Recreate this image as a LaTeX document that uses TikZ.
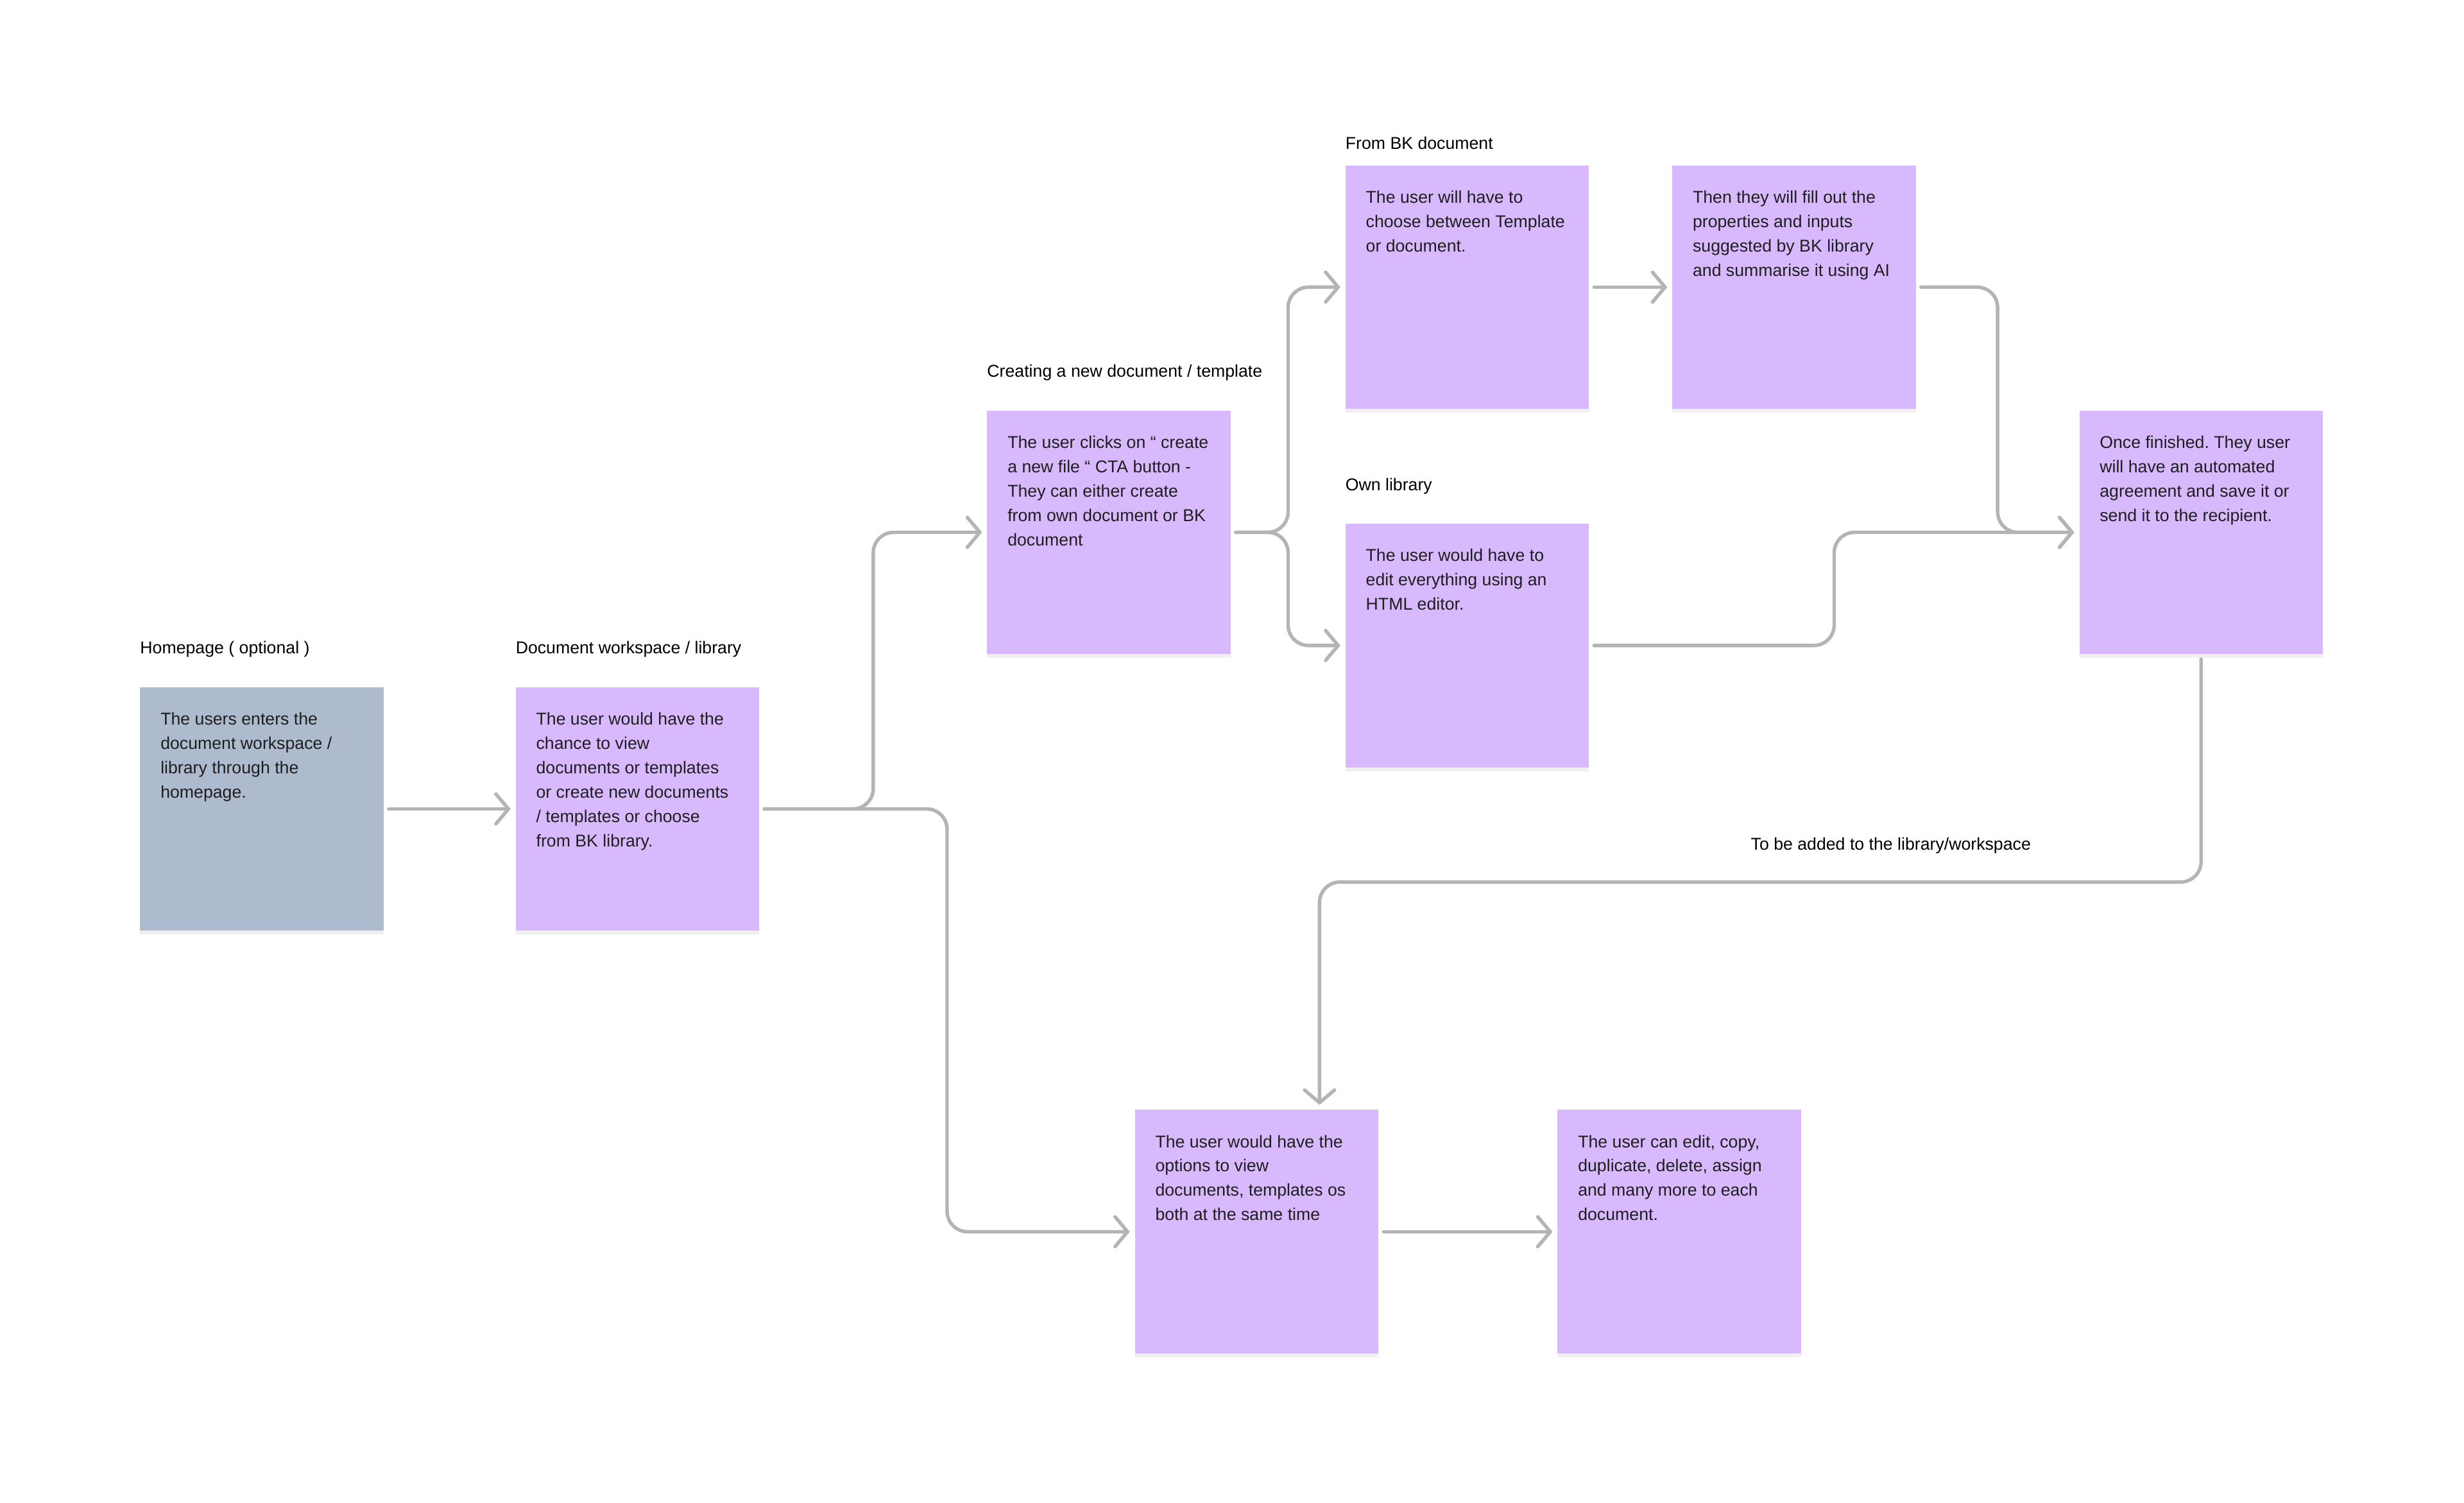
\documentclass[tikz,border=0pt]{standalone}
\usepackage{fontspec}
\setmainfont{Liberation Sans}
\usetikzlibrary{arrows.meta,calc,shadows}

\definecolor{notepurple}{RGB}{217,185,254}
\definecolor{noteblue}{RGB}{174,187,207}
\definecolor{linegray}{RGB}{180,180,180}
\definecolor{inkdark}{RGB}{30,30,30}

\frenchspacing
\begin{document}
\begin{tikzpicture}[x=1pt,y=-1pt]
    \tikzstyle{note}=[rectangle,anchor=north west,minimum width=155pt,minimum height=155pt,inner sep=0pt,fill=notepurple,
        drop shadow={shadow xshift=0pt,shadow yshift=-2.5pt,opacity=0.12}]
    \tikzstyle{start note}=[note, fill=noteblue]
    \tikzstyle{note text}=[anchor=north west,inner sep=0pt,align=left,text=inkdark,font=\fontsize{10.9}{15.5}\selectfont]
    \tikzstyle{title}=[anchor=base west,inner sep=0pt,text=black,font=\fontsize{10.9}{12}\selectfont]
    \tikzstyle{flow}=[draw=linegray,line width=2.2pt,rounded corners=13pt,line cap=round,
        -{Straight Barb[length=8pt,width=19pt,line cap=round]},shorten >=3pt,shorten <=3pt]

    \useasboundingbox (0,0) rectangle (1568,956);

    % Notes
    \node[start note] (home) at (89,437) {};
    \node[note] (work) at (328,437) {};
    \node[note] (create) at (628,261) {};
    \node[note] (frombk) at (856,105) {};
    \node[note] (then) at (1064,105) {};
    \node[note] (own) at (856,333) {};
    \node[note] (once) at (1323,261) {};
    \node[note] (opts) at (722,706) {};
    \node[note] (edit) at (991,706) {};

    \node[note text] at ([xshift=13pt,yshift=-16pt]home.north west) {The users enters the\\document workspace /\\library through the\\homepage.};
    \node[note text] at ([xshift=13pt,yshift=-16pt]work.north west) {The user would have the\\chance to view\\documents or templates\\or create new documents\\/ templates or choose\\from BK library.};
    \node[note text] at ([xshift=13pt,yshift=-16pt]create.north west) {The user clicks on “ create\\a new file “ CTA button -\\They can either create\\from own document or BK\\document};
    \node[note text] at ([xshift=13pt,yshift=-16pt]frombk.north west) {The user will have to\\choose between Template\\or document.};
    \node[note text] at ([xshift=13pt,yshift=-16pt]then.north west) {Then they will fill out the\\properties and inputs\\suggested by BK library\\and summarise it using AI};
    \node[note text] at ([xshift=13pt,yshift=-16pt]own.north west) {The user would have to\\edit everything using an\\HTML editor.};
    \node[note text] at ([xshift=13pt,yshift=-16pt]once.north west) {Once finished. They user\\will have an automated\\agreement and save it or\\send it to the recipient.};
    \node[note text] at ([xshift=13pt,yshift=-16pt]opts.north west) {The user would have the\\options to view\\documents, templates os\\both at the same time};
    \node[note text] at ([xshift=13pt,yshift=-16pt]edit.north west) {The user can edit, copy,\\duplicate, delete, assign\\and many more to each\\document.};

    % Titles
    \node[title] (home-t) at ([yshift=21pt]home.north west) {Homepage ( optional )};
    \node[title] (work-t) at ([yshift=21pt]work.north west) {Document workspace / library};
    \node[title] (create-t) at ([yshift=21pt]create.north west) {Creating a new document / template};
    \node[title] (frombk-t) at ([yshift=10pt]frombk.north west) {From BK document};
    \node[title] (own-t) at ([yshift=21pt]own.north west) {Own library};
    \node[title] (added) at (1114,541) {To be added to the library/workspace};

    \coordinate (opts-in) at ([xshift=40pt]opts.north);

    % Links
    \draw[flow] (home.east) -- (work.west);
    \draw[flow] (work.east) -| ($(work.east)!.5!(create.west)$) |- (create.west);
    \draw[flow] (work.east) -| ($(work.east)!.5!(opts.west)$) |- (opts.west);
    \draw[flow] (create.east) -| ($(create.east)!.5!(frombk.west)$) |- (frombk.west);
    \draw[flow] (create.east) -| ($(create.east)!.5!(own.west)$) |- (own.west);
    \draw[flow] (frombk.east) -- (then.west);
    \draw[flow] (then.east) -| ($(then.east)!.5!(once.west)$) |- (once.west);
    \draw[flow] (own.east) -| ($(own.east)!.5!(once.west)$) |- (once.west);
    \draw[flow] (once.south) |- ($(once.south)!.5!(opts-in)$) -| (opts-in);
    \draw[flow] (opts.east) -- (edit.west);
\end{tikzpicture}
\end{document}
